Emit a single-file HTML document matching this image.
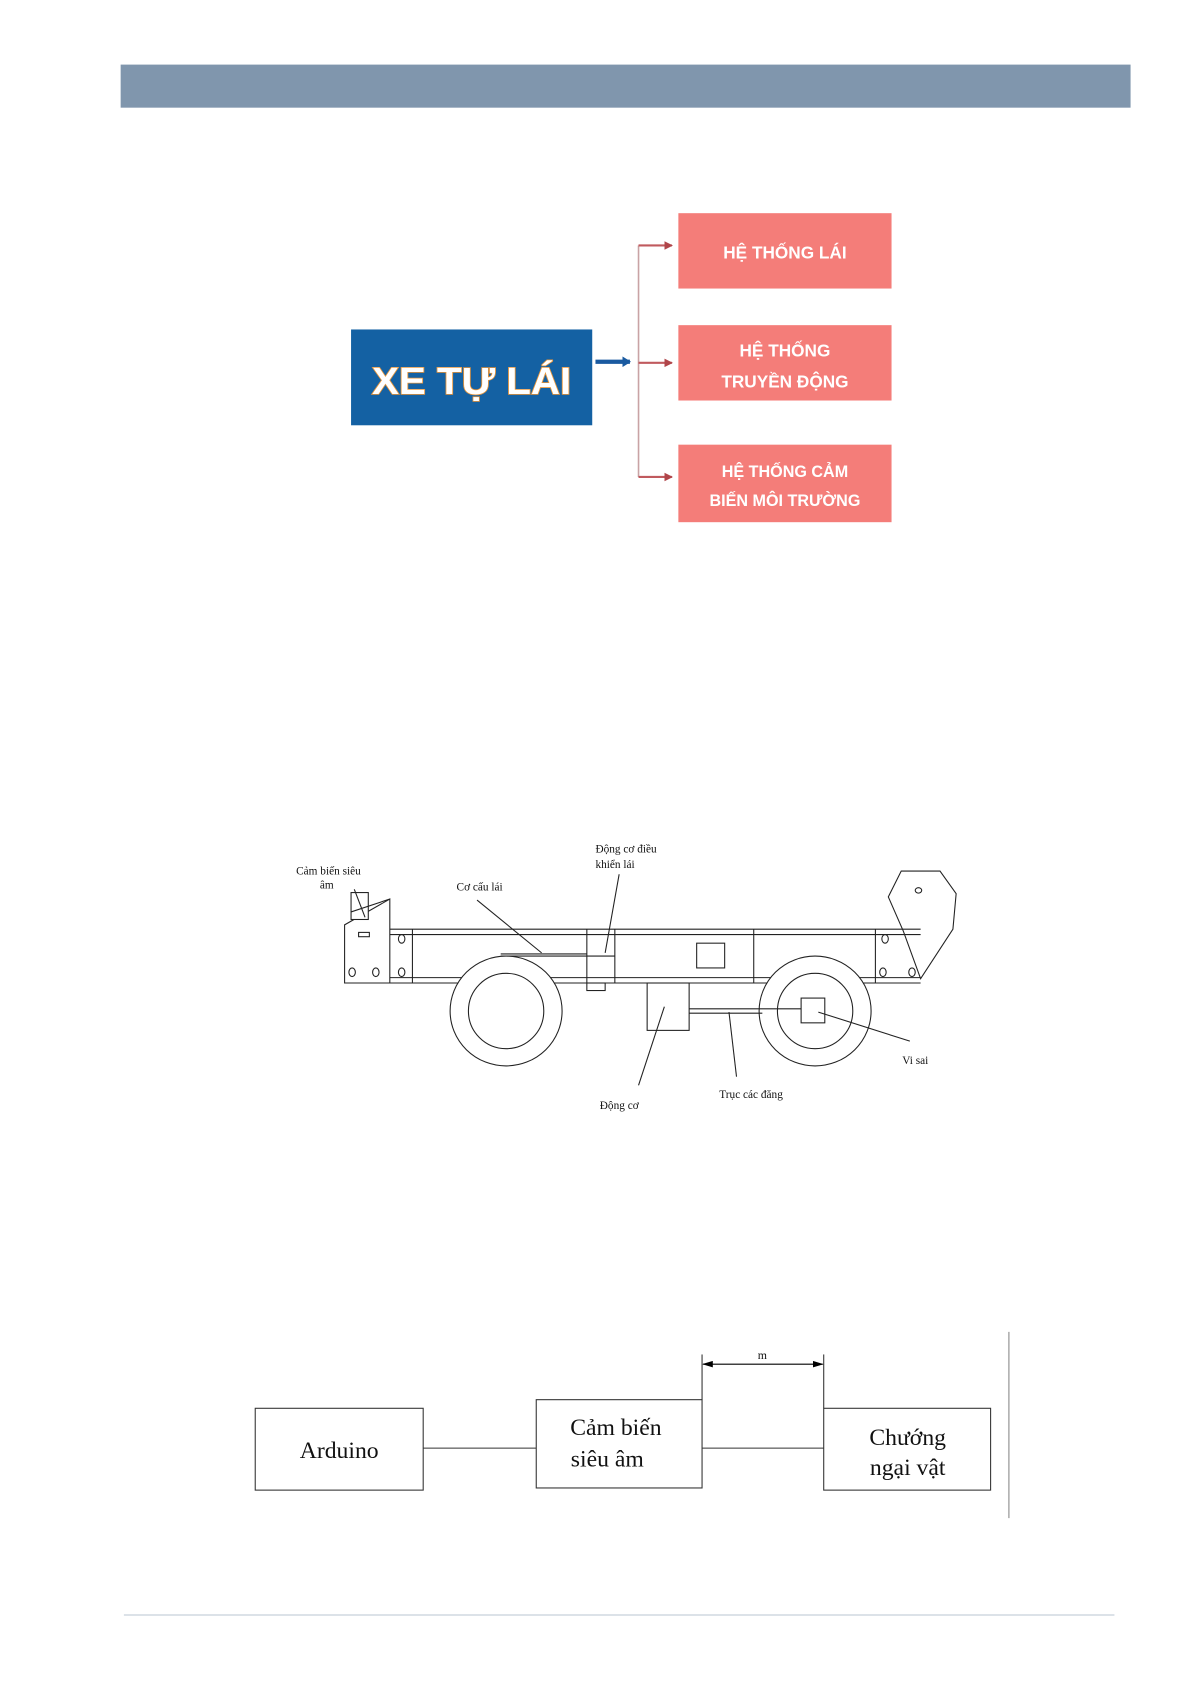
<!DOCTYPE html>
<html><head><meta charset="utf-8"><style>
html,body{margin:0;padding:0;background:#fff;}
svg{display:block;}
.s{font-family:"Liberation Serif","DejaVu Serif",serif;fill:#111;}
.b{font-family:"Liberation Sans","DejaVu Sans",sans-serif;font-weight:bold;fill:#fff;}
</style></head><body>
<svg width="1192" height="1685" viewBox="0 0 1107 1565" xmlns="http://www.w3.org/2000/svg">
<defs>
<marker id="ar" markerUnits="userSpaceOnUse" markerWidth="8" markerHeight="8" refX="7" refY="4" orient="auto"><path d="M0,0 L8,4 L0,8 z" fill="#b0454a"/></marker>
<marker id="ab" markerUnits="userSpaceOnUse" markerWidth="8" markerHeight="10" refX="7" refY="5" orient="auto"><path d="M0,0 L8,5 L0,10 z" fill="#1a5aa0"/></marker>
<marker id="dk" markerUnits="userSpaceOnUse" markerWidth="10" markerHeight="6" refX="9" refY="3" orient="auto-start-reverse"><path d="M0,0 L10,3 L0,6 z" fill="#000"/></marker>
</defs>
<rect x="112" y="60" width="938" height="40" fill="#8096ad"/>

<rect x="326" y="306" width="224" height="89" fill="#1461a3"/>
<text x="438" y="366" text-anchor="middle" font-size="35" class="b" stroke="#e8953a" stroke-width="1.5" paint-order="stroke" textLength="185" lengthAdjust="spacingAndGlyphs">XE TỰ LÁI</text>
<line x1="553" y1="336" x2="585" y2="336" stroke="#1a5aa0" stroke-width="4" marker-end="url(#ab)"/>
<line x1="593" y1="228" x2="593" y2="443" stroke="#c9a3a5" stroke-width="1.5"/>
<g stroke="#c05a5e" stroke-width="2" fill="none">
<line x1="593" y1="228" x2="624" y2="228" marker-end="url(#ar)"/>
<line x1="593" y1="337" x2="624" y2="337" marker-end="url(#ar)"/>
<line x1="593" y1="443" x2="624" y2="443" marker-end="url(#ar)"/>
</g>
<rect x="630" y="198" width="198" height="70" fill="#f47d79"/>
<rect x="630" y="302" width="198" height="70" fill="#f47d79"/>
<rect x="630" y="413" width="198" height="72" fill="#f47d79"/>
<text x="729" y="240" text-anchor="middle" font-size="16" class="b">HỆ THỐNG LÁI</text>
<text x="729" y="331" text-anchor="middle" font-size="16" class="b">HỆ THỐNG</text>
<text x="729" y="360" text-anchor="middle" font-size="16" class="b">TRUYỀN ĐỘNG</text>
<text x="729" y="443" text-anchor="middle" font-size="15" class="b">HỆ THỐNG CẢM</text>
<text x="729" y="470" text-anchor="middle" font-size="15" class="b">BIẾN MÔI TRƯỜNG</text>

<g stroke="#222" stroke-width="1" fill="none">
<line x1="362" y1="863" x2="855" y2="863"/><line x1="362" y1="868" x2="855" y2="868"/>
<line x1="320" y1="908" x2="855" y2="908"/><line x1="320" y1="913" x2="855" y2="913"/>
<polygon points="320,913 320,859 362,835 362,913" fill="#fff"/>
<rect x="326" y="829" width="16" height="25" fill="#fff"/>
<line x1="326" y1="847" x2="362" y2="835"/>
<rect x="333" y="866" width="10" height="4"/>
<line x1="383" y1="863" x2="383" y2="913"/>
<line x1="545" y1="863" x2="545" y2="913"/><line x1="571" y1="863" x2="571" y2="913"/>
<line x1="700" y1="863" x2="700" y2="913"/><line x1="813" y1="863" x2="813" y2="913"/>
<line x1="545" y1="888" x2="571" y2="888"/>
<line x1="465" y1="886" x2="545" y2="886"/><line x1="465" y1="888" x2="545" y2="888"/>
<rect x="545" y="913" width="17" height="7"/>
<rect x="647" y="876" width="26" height="23"/>
<ellipse cx="470" cy="939" rx="52" ry="51" fill="#fff"/>
<ellipse cx="470" cy="939" rx="35" ry="35"/>
<ellipse cx="757" cy="939" rx="52" ry="51" fill="#fff"/>
<ellipse cx="757" cy="939" rx="35" ry="35"/>
<rect x="601" y="913" width="39" height="44" fill="#fff"/>
<line x1="640" y1="937" x2="744" y2="937"/><line x1="640" y1="941" x2="708" y2="941"/>
<rect x="744" y="927" width="22" height="23" fill="#fff"/>
<polygon points="855,909 839,865 825,833 837,809 873,809 888,830 885,863 855,909"/>
<ellipse cx="853" cy="827" rx="3" ry="2.5"/>
<g>
<ellipse cx="373" cy="872" rx="3" ry="4"/><ellipse cx="373" cy="903" rx="3" ry="4"/>
<ellipse cx="327" cy="903" rx="3" ry="4"/><ellipse cx="349" cy="903" rx="3" ry="4"/>
<ellipse cx="822" cy="872" rx="3" ry="4"/><ellipse cx="820" cy="903" rx="3" ry="4"/><ellipse cx="847" cy="903" rx="3" ry="4"/>
</g>
<line x1="329" y1="826" x2="339" y2="852"/>
<line x1="443" y1="836" x2="503" y2="885"/>
<line x1="575" y1="812" x2="562" y2="885"/>
<line x1="617" y1="935" x2="593" y2="1008"/>
<line x1="677" y1="940" x2="684" y2="1000"/>
<line x1="760" y1="940" x2="845" y2="967"/>
</g>
<g class="s" font-size="10.5">
<text x="275" y="812">Cảm biến siêu</text><text x="297" y="825">âm</text>
<text x="424" y="827">Cơ cấu lái</text>
<text x="553" y="792">Động cơ điều</text><text x="553" y="806">khiển lái</text>
<text x="557" y="1030">Động cơ</text>
<text x="668" y="1020">Trục các đăng</text>
<text x="838" y="988">Vi sai</text>
</g>

<g stroke="#333" stroke-width="1" fill="#fff">
<rect x="237" y="1308" width="156" height="76"/>
<rect x="498" y="1300" width="154" height="82"/>
<rect x="765" y="1308" width="155" height="76"/>
<line x1="393" y1="1345" x2="498" y2="1345"/>
<line x1="652" y1="1345" x2="765" y2="1345"/>
<line x1="652" y1="1258" x2="652" y2="1300"/>
<line x1="765" y1="1258" x2="765" y2="1308"/>
<line x1="937" y1="1237" x2="937" y2="1410" stroke="#888"/>
</g>
<line x1="653" y1="1267" x2="764" y2="1267" stroke="#000" stroke-width="1" marker-end="url(#dk)" marker-start="url(#dk)"/>
<text x="708" y="1262" text-anchor="middle" class="s" font-size="11">m</text>
<g class="s" font-size="22">
<text x="315" y="1354" text-anchor="middle">Arduino</text>
<text x="572" y="1333" text-anchor="middle">Cảm biến</text>
<text x="564" y="1362" text-anchor="middle">siêu âm</text>
<text x="843" y="1342" text-anchor="middle">Chướng</text>
<text x="843" y="1370" text-anchor="middle">ngại vật</text>
</g>
<line x1="115" y1="1500" x2="1035" y2="1500" stroke="#b8c4d2" stroke-width="1"/>
</svg>
</body></html>
